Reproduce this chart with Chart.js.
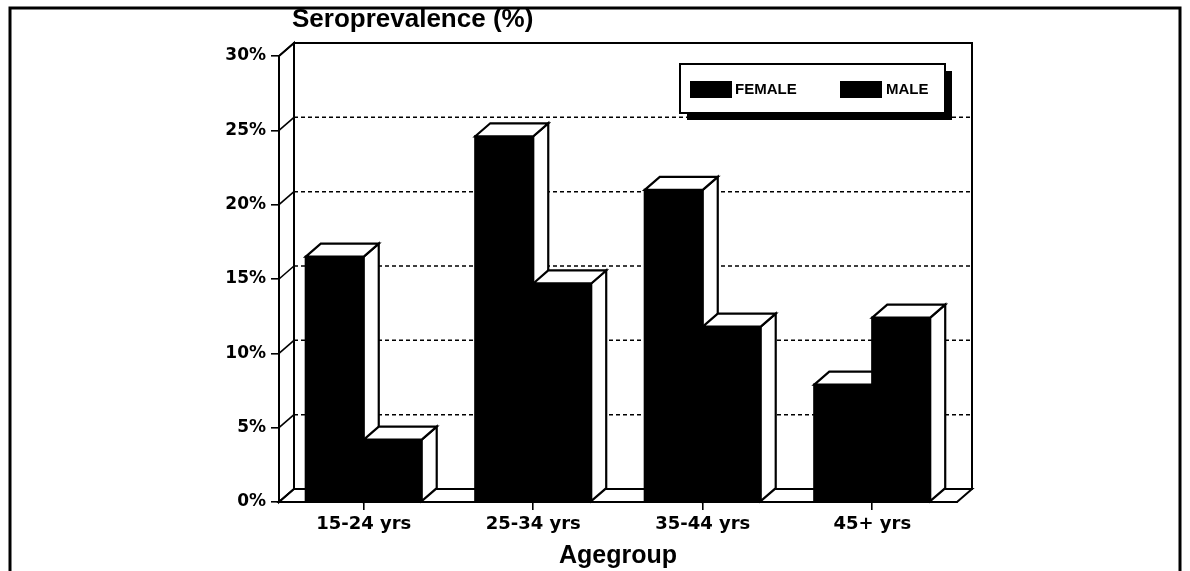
<!DOCTYPE html>
<html>
<head>
<meta charset="utf-8">
<script src="https://cdn.jsdelivr.net/npm/chart.js@4/dist/chart.umd.min.js"></script>
<style>
  html, body { margin: 0; padding: 0; background: #fff; }
  #wrap { width: 1190px; height: 571px; position: relative; }
</style>
</head>
<body>
<div id="wrap"><canvas id="c" width="1190" height="571"></canvas></div>
<script>
// Seroprevalence by age group and sex
const ageGroups   = ['15-24 yrs', '25-34 yrs', '35-44 yrs', '45+ yrs'];
const femaleRates = [16.5, 24.6, 21.0, 7.9];
const maleRates   = [4.2, 14.7, 11.8, 12.4];
const yTicks      = [0, 5, 10, 15, 20, 25, 30];
const seriesNames = ['FEMALE', 'MALE'];
const chartTitle  = 'Seroprevalence (%)';
const axisTitle   = 'Agegroup';

// depth of the 3-D box (pixels to the right / upward)
const DX = 15, DY = 13;
const INK = '#000';

function poly(ctx, pts, fill) {
  ctx.beginPath();
  ctx.moveTo(pts[0][0], pts[0][1]);
  for (let i = 1; i < pts.length; i++) ctx.lineTo(pts[i][0], pts[i][1]);
  ctx.closePath();
  if (fill) { ctx.fillStyle = fill; ctx.fill(); }
  ctx.stroke();
}

const box3d = {
  id: 'box3d',
  beforeDatasetsDraw(chart) {
    const { ctx, chartArea: a, scales: { y } } = chart;
    ctx.save();
    ctx.strokeStyle = INK;
    ctx.lineWidth = 2;
    ctx.lineJoin = 'miter';
    // back wall
    poly(ctx, [[a.left + DX, a.top - DY], [a.right + DX, a.top - DY],
               [a.right + DX, a.bottom - DY], [a.left + DX, a.bottom - DY]], '#fff');
    // left side wall
    poly(ctx, [[a.left, a.top], [a.left + DX, a.top - DY],
               [a.left + DX, a.bottom - DY], [a.left, a.bottom]], '#fff');
    // floor
    poly(ctx, [[a.left, a.bottom], [a.right, a.bottom],
               [a.right + DX, a.bottom - DY], [a.left + DX, a.bottom - DY]], '#fff');
    // tick connectors on the side wall and dashed grid on the back wall
    yTicks.forEach(v => {
      const py = y.getPixelForValue(v);
      ctx.setLineDash([]);
      ctx.lineWidth = 1.6;
      ctx.beginPath();
      ctx.moveTo(a.left, py);
      ctx.lineTo(a.left + DX, py - DY);
      ctx.stroke();
      if (v > 0 && v < 30) {
        ctx.setLineDash([4, 3]);
        ctx.lineWidth = 1.5;
        ctx.beginPath();
        ctx.moveTo(a.left + DX, py - DY);
        ctx.lineTo(a.right + DX, py - DY);
        ctx.stroke();
      }
    });
    ctx.restore();
  },
  afterDatasetsDraw(chart) {
    const { ctx } = chart;
    const bars = [];
    chart.data.datasets.forEach((ds, di) => {
      chart.getDatasetMeta(di).data.forEach(el => bars.push({ el, color: ds.backgroundColor }));
    });
    bars.sort((p, q) => p.el.x - q.el.x);
    ctx.save();
    ctx.strokeStyle = INK;
    ctx.lineWidth = 2.2;
    ctx.setLineDash([]);
    bars.forEach(({ el, color }) => {
      const { x, y, base, width } = el.getProps(['x', 'y', 'base', 'width'], true);
      const l = x - width / 2, r = x + width / 2;
      // front face
      ctx.fillStyle = color;
      ctx.fillRect(l, y, r - l, base - y);
      ctx.strokeRect(l, y, r - l, base - y);
      // side face
      poly(ctx, [[r, y], [r + DX, y - DY], [r + DX, base - DY], [r, base]], '#fff');
      // top face
      poly(ctx, [[l, y], [l + DX, y - DY], [r + DX, y - DY], [r, y]], '#fff');
    });
    ctx.restore();
  },
  afterDraw(chart) {
    const { ctx } = chart;
    ctx.save();
    // title
    ctx.fillStyle = INK;
    ctx.font = 'bold 26px "Liberation Sans", Arial, sans-serif';
    ctx.textBaseline = 'middle';
    ctx.textAlign = 'left';
    ctx.fillText(chartTitle, 292, 20);

    // legend with drop shadow
    const lx = 680, ly = 64, lw = 265, lh = 49;
    ctx.fillStyle = INK;
    ctx.fillRect(lx + 7, ly + 7, lw, lh);
    ctx.fillStyle = '#fff';
    ctx.strokeStyle = INK;
    ctx.lineWidth = 2;
    ctx.fillRect(lx, ly, lw, lh);
    ctx.strokeRect(lx, ly, lw, lh);
    ctx.font = 'bold 15px "Liberation Sans", Arial, sans-serif';
    ctx.textBaseline = 'middle';
    const items = [{ sx: 690, tx: 735 }, { sx: 840, tx: 886 }];
    chart.data.datasets.forEach((ds, i) => {
      ctx.fillStyle = ds.backgroundColor;
      ctx.fillRect(items[i].sx, ly + 17, 42, 17);
      ctx.fillStyle = INK;
      ctx.fillText(ds.label, items[i].tx, ly + 26);
    });

    // frame round the figure
    ctx.lineWidth = 3;
    ctx.beginPath();
    ctx.moveTo(10, 571);
    ctx.lineTo(10, 8);
    ctx.lineTo(1180, 8);
    ctx.lineTo(1180, 571);
    ctx.stroke();
    ctx.restore();
  }
};

new Chart(document.getElementById('c'), {
  type: 'bar',
  data: {
    labels: ageGroups,
    datasets: [
      { label: seriesNames[0], data: femaleRates, backgroundColor: '#000', borderWidth: 0 },
      { label: seriesNames[1], data: maleRates,   backgroundColor: '#000', borderWidth: 0 }
    ]
  },
  options: {
    responsive: false,
    animation: false,
    devicePixelRatio: 1,
    categoryPercentage: 0.684,
    barPercentage: 1.0,
    layout: { padding: { top: 56, right: 233, bottom: 0, left: 0 } },
    plugins: { legend: { display: false }, title: { display: false }, tooltip: { enabled: false } },
    scales: {
      y: {
        min: 0, max: 30,
        afterFit(s) { s.width = 279; },
        afterBuildTicks(s) { s.ticks = yTicks.map(v => ({ value: v })); },
        grid: { drawOnChartArea: false, drawTicks: true, tickLength: 8, color: INK, lineWidth: 1.6 },
        border: { display: true, color: INK, width: 2 },
        ticks: {
          color: INK, padding: 5,
          font: { family: '"DejaVu Sans", sans-serif', weight: 'bold', size: 17 },
          callback: v => v + '%'
        }
      },
      x: {
        afterFit(s) { s.height = 69; },
        grid: { offset: false, drawOnChartArea: false, drawTicks: true, tickLength: 8, color: INK, lineWidth: 1.6 },
        border: { display: true, color: INK, width: 2 },
        ticks: {
          color: INK, padding: 4,
          font: { family: '"DejaVu Sans", sans-serif', weight: 'bold', size: 18 }
        },
        title: {
          display: true, text: axisTitle, color: INK,
          font: { family: '"Liberation Sans", Arial, sans-serif', weight: 'bold', size: 25 },
          padding: { top: 1, bottom: 0 }
        }
      }
    }
  },
  plugins: [box3d]
});
</script>
</body>
</html>
